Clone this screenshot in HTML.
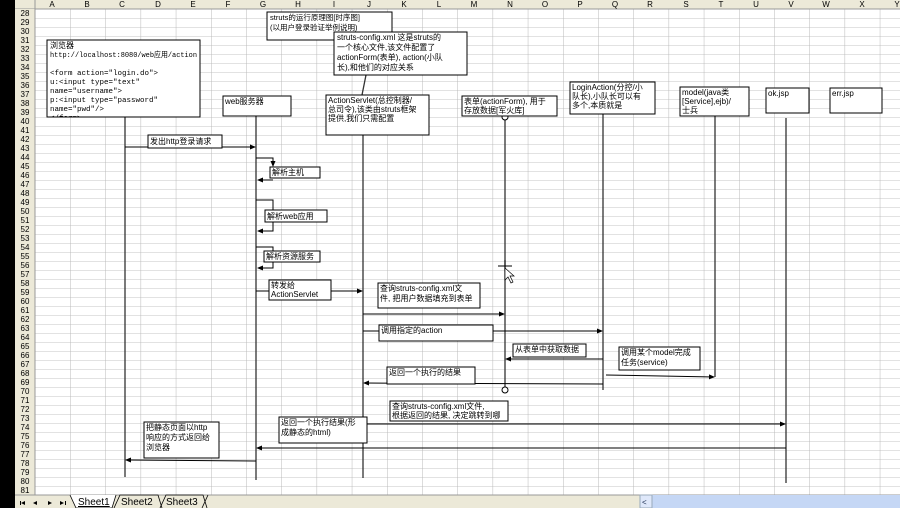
<!DOCTYPE html>
<html><head><meta charset="utf-8"><style>
html,body{margin:0;padding:0;width:900px;height:508px;overflow:hidden;background:#fff}
svg{display:block}
text{font-family:"Liberation Sans","Noto Sans CJK SC",sans-serif;font-size:8px;fill:#000}
.h{font-size:7px;fill:#333;text-anchor:middle}
.m{font-family:"Liberation Mono","Noto Sans CJK SC",monospace;font-size:7.5px}
</style></head><body>
<svg width="900" height="508" viewBox="0 0 900 508" xmlns="http://www.w3.org/2000/svg">
<defs>
<pattern id="gh" x="0" y="9" width="900" height="9" patternUnits="userSpaceOnUse"><line x1="0" y1="0" x2="900" y2="0" stroke="#c4c4c4" stroke-width="1"/></pattern>
<pattern id="gv" x="35" y="0" width="35.2" height="600" patternUnits="userSpaceOnUse"><line x1="0" y1="0" x2="0" y2="600" stroke="#b8b8b8" stroke-width="1"/></pattern>
<marker id="a" markerWidth="6" markerHeight="6" refX="5" refY="3" orient="auto"><path d="M0,0.5 L6,3 L0,5.5z" fill="#000"/></marker>
<clipPath id="cb"><rect x="47" y="40" width="153" height="77"/></clipPath>
</defs>
<rect x="35" y="9" width="865" height="486" fill="url(#gh)"/>
<rect x="35" y="9" width="865" height="486" fill="url(#gv)"/>
<rect x="0" y="0" width="900" height="9" fill="#ece9d8"/>
<line x1="0" y1="9" x2="900" y2="9" stroke="#999"/>
<rect x="0" y="0" width="15" height="508" fill="#000"/>
<rect x="15" y="9" width="20" height="486" fill="#ece9d8"/>
<line x1="35" y1="0" x2="35" y2="495" stroke="#999"/>
<g class="h">
<text x="52" y="7">A</text><text x="87" y="7">B</text><text x="122" y="7">C</text><text x="158" y="7">D</text><text x="193" y="7">E</text><text x="228" y="7">F</text><text x="263" y="7">G</text><text x="298" y="7">H</text><text x="334" y="7">I</text><text x="369" y="7">J</text><text x="404" y="7">K</text><text x="439" y="7">L</text><text x="474" y="7">M</text><text x="510" y="7">N</text><text x="545" y="7">O</text><text x="580" y="7">P</text><text x="615" y="7">Q</text><text x="650" y="7">R</text><text x="686" y="7">S</text><text x="721" y="7">T</text><text x="756" y="7">U</text><text x="791" y="7">V</text><text x="826" y="7">W</text><text x="862" y="7">X</text><text x="897" y="7">Y</text>
</g>
<g class="h">
<text x="25" y="16">28</text><text x="25" y="25">29</text><text x="25" y="34">30</text><text x="25" y="43">31</text><text x="25" y="52">32</text><text x="25" y="61">33</text><text x="25" y="70">34</text><text x="25" y="79">35</text><text x="25" y="88">36</text><text x="25" y="97">37</text><text x="25" y="106">38</text><text x="25" y="115">39</text><text x="25" y="124">40</text><text x="25" y="133">41</text><text x="25" y="142">42</text><text x="25" y="151">43</text><text x="25" y="160">44</text><text x="25" y="169">45</text><text x="25" y="178">46</text><text x="25" y="187">47</text><text x="25" y="196">48</text><text x="25" y="205">49</text><text x="25" y="214">50</text><text x="25" y="223">51</text><text x="25" y="232">52</text><text x="25" y="241">53</text><text x="25" y="250">54</text><text x="25" y="259">55</text><text x="25" y="268">56</text><text x="25" y="277">57</text><text x="25" y="286">58</text><text x="25" y="295">59</text><text x="25" y="304">60</text><text x="25" y="313">61</text><text x="25" y="322">62</text><text x="25" y="331">63</text><text x="25" y="340">64</text><text x="25" y="349">65</text><text x="25" y="358">66</text><text x="25" y="367">67</text><text x="25" y="376">68</text><text x="25" y="385">69</text><text x="25" y="394">70</text><text x="25" y="403">71</text><text x="25" y="412">72</text><text x="25" y="421">73</text><text x="25" y="430">74</text><text x="25" y="439">75</text><text x="25" y="448">76</text><text x="25" y="457">77</text><text x="25" y="466">78</text><text x="25" y="475">79</text><text x="25" y="484">80</text><text x="25" y="493">81</text>
</g>

<g stroke="#333" stroke-width="1.3">
<line x1="125" y1="117" x2="125" y2="477"/>
<line x1="256" y1="116" x2="256" y2="480"/>
<line x1="363" y1="135" x2="363" y2="478"/>
<line x1="505" y1="120" x2="505" y2="387"/>
<line x1="603" y1="113" x2="603" y2="390"/>
<line x1="715" y1="116" x2="715" y2="377"/>
<line x1="786" y1="118" x2="786" y2="483"/>
<line x1="366" y1="75" x2="362" y2="95"/>
</g>
<circle cx="505" cy="117" r="3" fill="#fff" stroke="#000"/>
<circle cx="505" cy="390" r="3" fill="#fff" stroke="#000"/>

<g stroke="#000" stroke-width="1" fill="none" marker-end="url(#a)">
<line x1="125" y1="147" x2="255" y2="147"/>
<polyline points="256,158 273,158 273,166"/>
<line x1="273" y1="180" x2="258" y2="180"/>
<polyline points="256,200 273,200 273,231 258,231"/>
<polyline points="256,247 273,247 273,268 258,268"/>
<line x1="256" y1="291" x2="362" y2="291"/>
<line x1="363" y1="314" x2="504" y2="314"/>
<line x1="363" y1="331" x2="602" y2="331"/>
<line x1="603" y1="359" x2="506" y2="359"/>
<line x1="606" y1="375" x2="714" y2="377"/>
<line x1="603" y1="384" x2="364" y2="383"/>
<line x1="363" y1="424" x2="785" y2="424"/>
<line x1="786" y1="448" x2="257" y2="448"/>
<line x1="256" y1="461" x2="126" y2="460"/>
</g>

<g fill="#fff" stroke="#000" stroke-width="1">
<rect x="267" y="12" width="125" height="28"/>
<rect x="47" y="40" width="153" height="77"/>
<rect x="223" y="96" width="68" height="20"/>
<rect x="326" y="95" width="103" height="40"/>
<rect x="334" y="32" width="133" height="43"/>
<rect x="462" y="96" width="95" height="20"/>
<rect x="570" y="82" width="85" height="32"/>
<rect x="680" y="87" width="69" height="29"/>
<rect x="766" y="88" width="43" height="25"/>
<rect x="830" y="88" width="52" height="25"/>
<rect x="148" y="135" width="74" height="13"/>
<rect x="270" y="167" width="50" height="11"/>
<rect x="265" y="210" width="62" height="12"/>
<rect x="264" y="251" width="56" height="11"/>
<rect x="269" y="280" width="62" height="20"/>
<rect x="378" y="283" width="102" height="25"/>
<rect x="379" y="325" width="114" height="16"/>
<rect x="513" y="344" width="73" height="13"/>
<rect x="619" y="347" width="81" height="23"/>
<rect x="387" y="367" width="88" height="17"/>
<rect x="390" y="401" width="118" height="20"/>
<rect x="279" y="417" width="88" height="26"/>
<rect x="144" y="422" width="75" height="36"/>
</g>

<g>
<text x="270" y="20" style="font-size:7.5px">struts的运行原理图[时序图]</text>
<text x="270" y="30" style="font-size:7.5px">(以用户登录验证举例说明)</text>
<text x="337" y="40">struts-config.xml 这是struts的</text>
<text x="337" y="50">一个核心文件,该文件配置了</text>
<text x="337" y="60">actionForm(表单), action(小队</text>
<text x="337" y="70">长),和他们的对应关系</text>
<g clip-path="url(#cb)">
<text x="50" y="48">浏览器</text>
<text class="m" x="50" y="57" textLength="147" lengthAdjust="spacingAndGlyphs">http://localhost:8080/web应用/action</text>
<text class="m" x="50" y="75">&lt;form action="login.do"&gt;</text>
<text class="m" x="50" y="84">u:&lt;input type="text"</text>
<text class="m" x="50" y="93">name="username"&gt;</text>
<text class="m" x="50" y="102">p:&lt;input type="password"</text>
<text class="m" x="50" y="111">name="pwd"/&gt;</text>
<text class="m" x="50" y="120">&lt;/form&gt;</text>
</g>
<text x="225" y="104">web服务器</text>
<text x="328" y="103">ActionServlet(总控制器/</text>
<text x="328" y="112">总司令),该类由struts框架</text>
<text x="328" y="121">提供,我们只需配置</text>
<text x="464" y="104">表单(actionForm), 用于</text>
<text x="464" y="113">存放数据[军火库]</text>
<text x="572" y="90">LoginAction(分控/小</text>
<text x="572" y="99">队长),小队长可以有</text>
<text x="572" y="108">多个,本质就是</text>
<text x="682" y="95">model(java类</text>
<text x="682" y="104">[Service],ejb)/</text>
<text x="682" y="113">士兵</text>
<text x="768" y="96">ok.jsp</text>
<text x="832" y="96">err.jsp</text>
<text x="150" y="144">发出http登录请求</text>
<text x="272" y="175">解析主机</text>
<text x="267" y="219">解析web应用</text>
<text x="266" y="259">解析资源服务</text>
<text x="271" y="288">转发给</text>
<text x="271" y="297">ActionServlet</text>
<text x="380" y="291">查询struts-config.xml文</text>
<text x="380" y="301">件, 把用户数据填充到表单</text>
<text x="381" y="333">调用指定的action</text>
<text x="515" y="352">从表单中获取数据</text>
<text x="621" y="355">调用某个model完成</text>
<text x="621" y="365">任务(service)</text>
<text x="389" y="375">返回一个执行的结果</text>
<text x="392" y="409">查询struts-config.xml文件,</text>
<text x="392" y="418">根据返回的结果, 决定跳转到哪</text>
<text x="281" y="425">返回一个执行结果(形</text>
<text x="281" y="435">成静态的html)</text>
<text x="146" y="430">把静态页面以http</text>
<text x="146" y="440">响应的方式返回给</text>
<text x="146" y="450">浏览器</text>
</g>
<g stroke="#000" stroke-width="1"><line x1="498" y1="266" x2="512" y2="266"/><line x1="505" y1="260" x2="505" y2="272"/></g>
<path d="M505,268 L505,280 L508,277 L511,283 L513,282 L510,276 L514,276z" fill="#fff" stroke="#000" stroke-width="0.7"/>

<rect x="15" y="495" width="885" height="13" fill="#ece9d8"/>
<line x1="15" y1="495" x2="900" y2="495" stroke="#999"/>
<g fill="#000"><path d="M25,501 L21,503 L25,505z"/><rect x="20" y="501" width="1" height="4"/><path d="M37,501 L33,503 L37,505z"/><path d="M48,501 L52,503 L48,505z"/><path d="M60,501 L64,503 L60,505z"/><rect x="65" y="501" width="1" height="4"/></g>
<path d="M70,495 L76,508 L112,508 L116,495" fill="#fff" stroke="#000" stroke-width="0.8"/>
<text x="78" y="505" style="font-size:10px;text-decoration:underline">Sheet1</text>
<path d="M114,508 L120,495 L158,495 L162,508" fill="none" stroke="#000" stroke-width="0.8"/>
<text x="121" y="505" style="font-size:10px">Sheet2</text>
<path d="M160,508 L166,495 L203,495 L207,508" fill="none" stroke="#000" stroke-width="0.8"/>
<text x="166" y="505" style="font-size:10px">Sheet3</text>
<line x1="202" y1="508" x2="208" y2="495" stroke="#000" stroke-width="0.8"/>
<rect x="640" y="495" width="260" height="13" fill="#c5d7f5"/>
<rect x="640" y="495" width="12" height="13" fill="#dfe8fa" stroke="#9ab"/>
<text x="642" y="505" style="font-size:8px;fill:#235">&lt;</text>
</svg>
</body></html>
